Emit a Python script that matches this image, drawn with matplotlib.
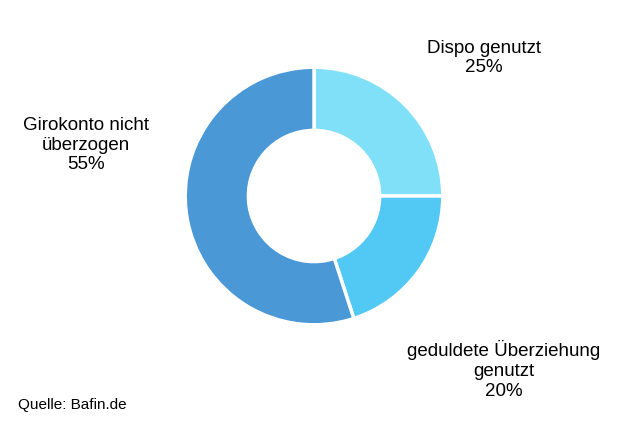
import matplotlib.pyplot as plt

labels = ["Dispo genutzt\n25%", "geduldete Überziehung\ngenutzt\n20%", "Girokonto nicht\nüberzogen\n55%"]
shares = [25, 20, 55]
colors = ["#80E0F8", "#52C8F5", "#4A98D6"]
label_pos = [(484, 58), (504, 370), (86, 145)]

plt.rcParams["font.family"] = "Liberation Sans"
W, H = 622, 425
fig = plt.figure(figsize=(W / 100, H / 100), dpi=100)
ax = fig.add_axes([(314 - 161) / W, (229 - 161) / H, 322 / W, 322 / H])
ax.pie(shares, colors=colors, startangle=90, counterclock=False,
       wedgeprops=dict(width=79 / 161, edgecolor="white", linewidth=2.5))
ax.set_aspect("equal")

for text, (x, y) in zip(labels, label_pos):
    fig.text(x / W, 1 - y / H, text, ha="center", va="center", fontsize=13.5, linespacing=1.2)

fig.text(18 / W, 1 - 405 / H, "Quelle: Bafin.de", ha="left", va="center", fontsize=11)
fig.savefig("out.png", dpi=100)
